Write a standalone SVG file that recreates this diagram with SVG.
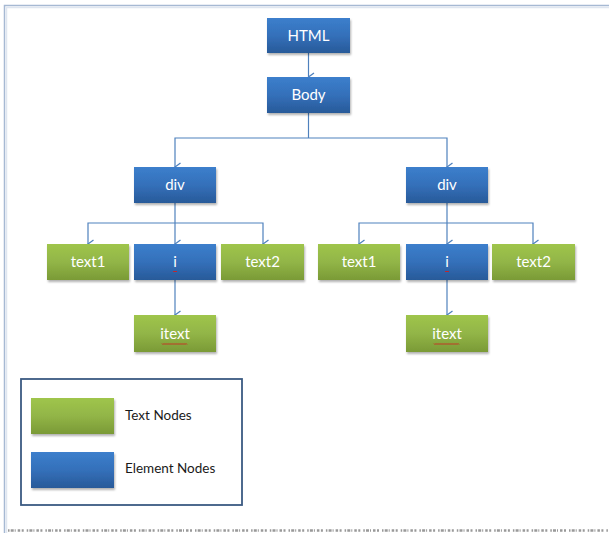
<svg xmlns="http://www.w3.org/2000/svg" width="609" height="533" viewBox="0 0 609 533">
<defs>
<linearGradient id="gBlue" x1="0" y1="0" x2="0" y2="1">
<stop offset="0" stop-color="#3c7fcc"/>
<stop offset="0.5" stop-color="#3470ba"/>
<stop offset="1" stop-color="#285a99"/>
</linearGradient>
<linearGradient id="gGreen" x1="0" y1="0" x2="0" y2="1">
<stop offset="0" stop-color="#9fc54c"/>
<stop offset="0.5" stop-color="#92b547"/>
<stop offset="1" stop-color="#7a9a36"/>
</linearGradient>
<filter id="sh" x="-10%" y="-10%" width="130%" height="140%">
<feDropShadow dx="1" dy="2" stdDeviation="1.2" flood-color="#000" flood-opacity="0.3"/>
</filter>
<marker id="arr" viewBox="0 0 10 10" refX="5" refY="9" markerWidth="10" markerHeight="10" markerUnits="userSpaceOnUse" orient="auto-start-reverse">
<path d="M1,3.5 L5,9 L9,3.5" fill="none" stroke="#4f81bd" stroke-width="1.3"/>
</marker>
</defs>
<style>
.el{fill:url(#gBlue);filter:url(#sh)}
.tx{fill:url(#gGreen);filter:url(#sh)}
.lbl{font-family:Lato,"Liberation Sans",sans-serif;font-size:15px;fill:#ffffff;text-anchor:middle}
.leg{font-family:Lato,"Liberation Sans",sans-serif;font-size:13.5px;fill:#1a1a1a}
.c{fill:none;stroke:#4f81bd;stroke-width:1.2}
.sq{fill:none;stroke:#d02020;stroke-width:0.9}
</style>
<rect width="609" height="533" fill="#ffffff"/>
<!-- outer frame -->
<path d="M4.5,533 V5.5 H609" fill="none" stroke="#a6b9d3" stroke-width="1.5"/>
<path d="M6.5,533 V7.5 H609" fill="none" stroke="#dfe6f0" stroke-width="1.5"/>

<g id="connectors">
<path class="c" d="M308.5,53 V77" marker-end="url(#arr)"/>
<path class="c" d="M308.5,113 V138"/>
<path class="c" d="M175,167 V138 H447 V167" marker-end="url(#arr)" marker-start="url(#arr)"/>
<path class="c" d="M175,203 V244" marker-end="url(#arr)"/>
<path class="c" d="M88,244 V223 H263 V244" marker-end="url(#arr)" marker-start="url(#arr)"/>
<path class="c" d="M175,280 V315" marker-end="url(#arr)"/>
<path class="c" d="M447,203 V244" marker-end="url(#arr)"/>
<path class="c" d="M359,244 V223 H533 V244" marker-end="url(#arr)" marker-start="url(#arr)"/>
<path class="c" d="M447,280 V315" marker-end="url(#arr)"/>
</g>

<g id="html"><rect class="el" x="267" y="18" width="83" height="35"/><text class="lbl" x="308.5" y="41">HTML</text></g>
<g id="body"><rect class="el" x="267" y="77" width="83" height="36"/><text class="lbl" x="308.5" y="100">Body</text></g>

<g id="div1"><rect class="el" x="134" y="167" width="82" height="36"/><text class="lbl" x="175" y="190">div</text></g>
<g id="text1a"><rect class="tx" x="47" y="244" width="82" height="36"/><text class="lbl" x="88" y="267">text1</text></g>
<g id="i1"><rect class="el" x="134" y="244" width="82" height="36"/><text class="lbl" x="175" y="267">i</text><path class="sq" d="M173,271 l1,1 l1,-1 l1,1 l1,-1"/></g>
<g id="text2a"><rect class="tx" x="221" y="244" width="83" height="36"/><text class="lbl" x="262.5" y="267">text2</text></g>
<g id="itext1"><rect class="tx" x="134" y="315" width="82" height="37"/><text class="lbl" x="175" y="339">itext</text><path class="sq" d="M162,343.5 l1,1 l1,-1 l1,1 l1,-1 l1,1 l1,-1 l1,1 l1,-1 l1,1 l1,-1 l1,1 l1,-1 l1,1 l1,-1 l1,1 l1,-1 l1,1 l1,-1 l1,1 l1,-1 l1,1 l1,-1 l1,1 l1,-1 l1,1"/></g>

<g id="div2"><rect class="el" x="406" y="167" width="82" height="36"/><text class="lbl" x="447" y="190">div</text></g>
<g id="text1b"><rect class="tx" x="318" y="244" width="82" height="36"/><text class="lbl" x="359" y="267">text1</text></g>
<g id="i2"><rect class="el" x="406" y="244" width="82" height="36"/><text class="lbl" x="447" y="267">i</text><path class="sq" d="M445,271 l1,1 l1,-1 l1,1 l1,-1"/></g>
<g id="text2b"><rect class="tx" x="492" y="244" width="83" height="36"/><text class="lbl" x="533.5" y="267">text2</text></g>
<g id="itext2"><rect class="tx" x="406" y="315" width="82" height="37"/><text class="lbl" x="447" y="339">itext</text><path class="sq" d="M434,343.5 l1,1 l1,-1 l1,1 l1,-1 l1,1 l1,-1 l1,1 l1,-1 l1,1 l1,-1 l1,1 l1,-1 l1,1 l1,-1 l1,1 l1,-1 l1,1 l1,-1 l1,1 l1,-1 l1,1 l1,-1 l1,1 l1,-1 l1,1"/></g>

<g id="legend">
<rect x="21" y="379" width="221" height="126" fill="#ffffff" stroke="#3b5a82" stroke-width="1.8"/>
<rect class="tx" x="31" y="398" width="83" height="36"/>
<text class="leg" x="125" y="420">Text Nodes</text>
<rect class="el" x="31" y="452" width="83" height="36"/>
<text class="leg" x="125" y="473">Element Nodes</text>
</g>
<path d="M8,530.5 H609" fill="none" stroke="#555" stroke-width="2.5" stroke-dasharray="1.5 1.2 3 1 1 2 2.5 1.5 2 3" opacity="0.6"/>
</svg>
